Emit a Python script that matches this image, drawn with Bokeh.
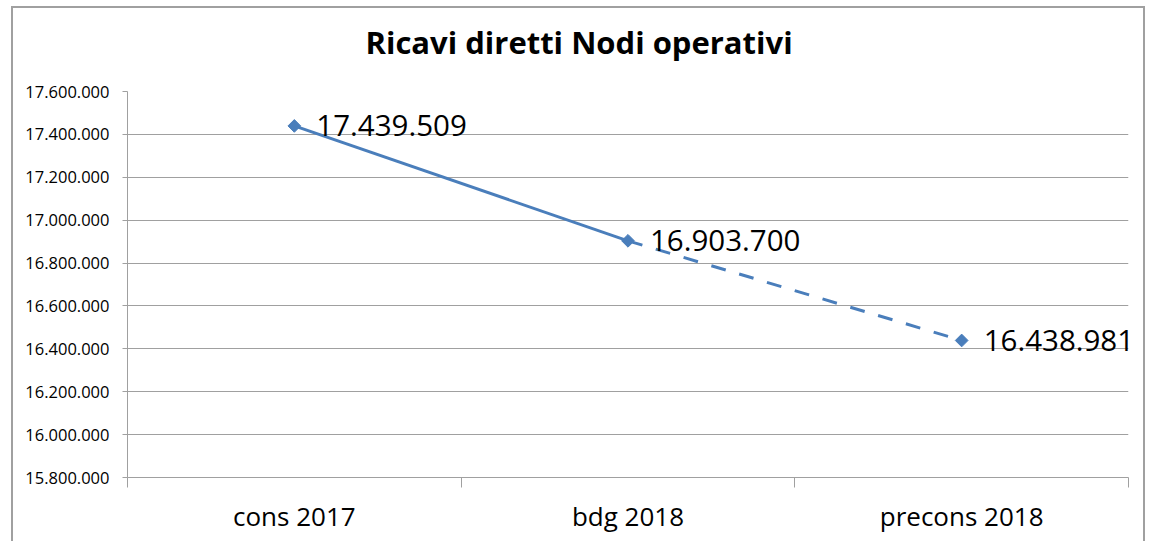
import numpy as np
from bokeh.plotting import figure
from bokeh.models import (ColumnDataSource, FixedTicker, CustomJSTickFormatter, LabelSet, Title, Range1d)
from bokeh.core.properties import value
from bokeh.embed import file_html
from bokeh.resources import INLINE

categories = ["cons 2017", "bdg 2018", "precons 2018"]
values = [17439509, 16903700, 16438981]
value_labels = ["17.439.509", "16.903.700", "16.438.981"]
y_ticks = [15800000, 16000000, 16200000, 16400000, 16600000, 16800000, 17000000, 17200000, 17400000, 17600000]
title_text = "Ricavi diretti Nodi operativi"

FONT = "Open Sans"
BLUE = "#4A7EBB"
GRAY = "#a0a0a0"

xs = [i + 0.5 for i in range(len(categories))]

p = figure(width=1134, height=535, output_backend="svg", toolbar_location=None,
           x_range=Range1d(0, len(categories)), y_range=Range1d(y_ticks[0], y_ticks[-1]),
           min_border_left=114, min_border_right=19, min_border_top=83, min_border_bottom=66)
p.title_location = None
p.margin = (6, 0, 0, 11)
p.styles = {"border-top": "2px solid " + GRAY, "border-left": "2px solid " + GRAY,
            "border-right": "2px solid " + GRAY}
p.outline_line_color = None
p.background_fill_color = "white"
p.border_fill_color = "white"

# spacer between title and plot area, then the title itself
p.add_layout(Title(text=" ", text_font_size="1px", standoff=14), "above")
p.add_layout(Title(text=title_text, align="left", offset=238, vertical_align="top", standoff=20,
                   text_font=FONT, text_font_size="31px", text_font_style="bold",
                   text_color="black"), "above")

# lines: solid for first segment, dashed for second
p.line(xs[:2], values[:2], line_color=BLUE, line_width=3)
p.line(xs[1:], values[1:], line_color=BLUE, line_width=3, line_dash="15 14")
p.scatter(xs, values, marker="square", angle=np.pi / 4, size=9, fill_color=BLUE, line_color=BLUE)

src = ColumnDataSource(dict(x=xs, y=values, t=value_labels))
p.add_layout(LabelSet(x="x", y="y", text="t", source=src, x_offset=22,
                      text_baseline="middle", text_align="left",
                      text_font=value(FONT), text_font_size=value("29.5px"), text_color="black"))

# y axis
p.yaxis.ticker = FixedTicker(ticks=y_ticks)
p.yaxis.formatter = CustomJSTickFormatter(code="return Math.round(tick).toString().replace(/\\B(?=(\\d{3})+(?!\\d))/g, '.');")
p.yaxis.axis_line_color = GRAY
p.yaxis.major_tick_line_color = GRAY
p.yaxis.major_tick_out = 5
p.yaxis.major_tick_in = 0
p.yaxis.minor_tick_line_color = None
p.yaxis.major_label_text_font = FONT
p.yaxis.major_label_text_font_size = "16.5px"
p.yaxis.major_label_text_color = "black"
p.yaxis.major_label_standoff = 13

# x axis: labels at centres, ticks at boundaries
p.xaxis.ticker = FixedTicker(ticks=xs, minor_ticks=list(range(len(categories) + 1)))
p.xaxis.major_label_overrides = {x: c for x, c in zip(xs, categories)}
p.xaxis.axis_line_color = GRAY
p.xaxis.major_tick_line_color = None
p.xaxis.minor_tick_line_color = GRAY
p.xaxis.minor_tick_out = 10
p.xaxis.minor_tick_in = 0
p.xaxis.major_label_text_font = FONT
p.xaxis.major_label_text_font_size = "26px"
p.xaxis.major_label_text_color = "black"
p.xaxis.major_label_standoff = 10

p.xgrid.grid_line_color = None
p.ygrid.grid_line_color = GRAY
p.ygrid.grid_line_width = 1

open("out.html", "w").write(file_html(p, INLINE))
